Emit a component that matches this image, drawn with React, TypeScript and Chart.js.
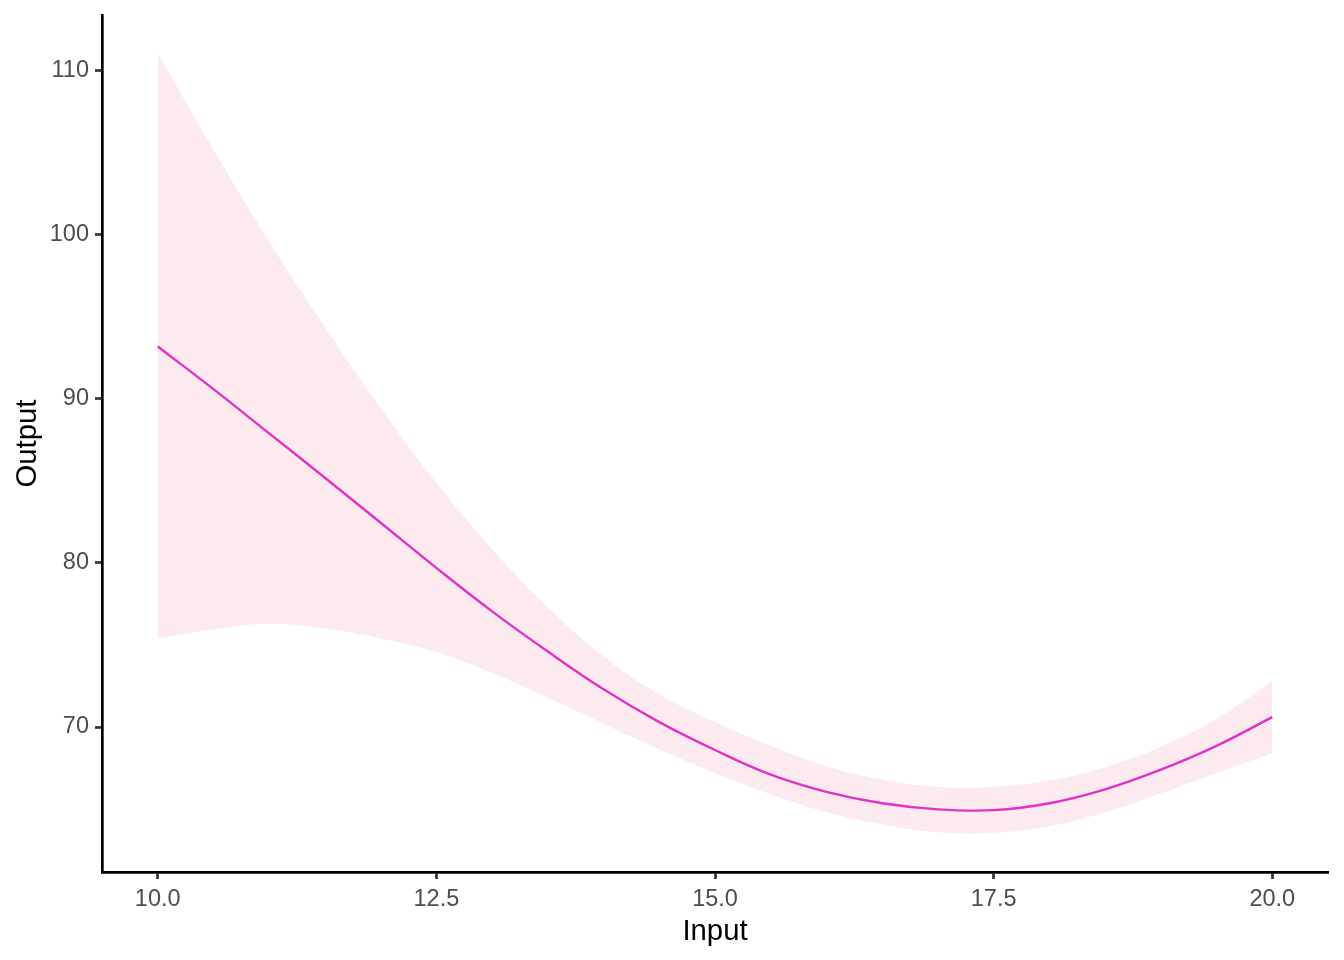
import React, { useEffect, useRef } from "react";
import { Chart, registerables } from "chart.js";

Chart.register(...registerables);

const xValues = [10, 10.5, 11, 11.5, 12, 12.5, 13, 13.5, 14, 14.5, 15, 15.5, 16, 16.5, 17, 17.5, 18, 18.5, 19, 19.5, 20];
const fitValues = [93.2, 90.6, 87.9, 85.2, 82.45, 79.7, 77.05, 74.6, 72.3, 70.3, 68.6, 67.1, 66.05, 65.35, 64.98, 64.93, 65.35, 66.2, 67.4, 68.85, 70.6];
const upperValues = [111.1, 105.2, 99.6, 94.4, 89.45, 84.9, 80.85, 77.3, 74.3, 72.0, 70.3, 68.85, 67.6, 66.8, 66.35, 66.35, 66.75, 67.55, 68.8, 70.5, 72.8];
const lowerValues = [75.4, 75.95, 76.3, 76.0, 75.4, 74.58, 73.3, 71.8, 70.2, 68.65, 67.2, 65.9, 64.8, 64.05, 63.58, 63.55, 63.95, 64.8, 65.95, 67.2, 68.4];
const xTicks = [10, 12.5, 15, 17.5, 20];
const yTicks = [70, 80, 90, 100, 110];

const FONT = "'Liberation Sans', Arial, sans-serif";

export default function App() {
  const ref = useRef<HTMLCanvasElement | null>(null);

  useEffect(() => {
    document.body.style.margin = "0";
    const canvas = ref.current;
    if (!canvas) return;
    const pts = (ys: number[]) => xValues.map((x, i) => ({ x, y: ys[i] }));
    const chart = new Chart(canvas, {
      type: "line",
      data: {
        datasets: [
          {
            label: "fit",
            data: pts(fitValues),
            borderColor: "rgb(224,50,200)",
            borderWidth: 2.4,
            pointRadius: 0,
            fill: false,
            tension: 0.4,
          },
          {
            label: "upper",
            data: pts(upperValues),
            borderWidth: 0,
            borderColor: "rgba(0,0,0,0)",
            backgroundColor: "rgb(253,234,239)",
            pointRadius: 0,
            fill: "+1",
            tension: 0.4,
          },
          {
            label: "lower",
            data: pts(lowerValues),
            borderWidth: 0,
            borderColor: "rgba(0,0,0,0)",
            backgroundColor: "rgb(253,234,239)",
            pointRadius: 0,
            fill: false,
            tension: 0.4,
          },
        ],
      },
      options: {
        animation: false,
        responsive: false,
        maintainAspectRatio: false,
        layout: { padding: { top: 15, right: 16, left: 0, bottom: 0 } },
        plugins: {
          legend: { display: false },
          tooltip: { enabled: false },
          filler: { drawTime: "beforeDatasetsDraw" },
        },
        scales: {
          x: {
            type: "linear",
            min: 9.5,
            max: 20.5,
            afterBuildTicks: (s: any) => {
              s.ticks = xTicks.map((v) => ({ value: v }));
            },
            afterFit: (s: any) => {
              s.height = 88;
              s.paddingLeft = 0;
              s.paddingRight = 0;
            },
            ticks: {
              callback: (v: any) => Number(v).toFixed(1),
              color: "#4D4D4D",
              font: { family: FONT, size: 23.5 },
              padding: 6,
              maxRotation: 0,
              autoSkip: false,
            },
            grid: {
              drawOnChartArea: false,
              drawTicks: true,
              tickLength: 7,
              tickColor: "#333333",
              tickWidth: 2.7,
            },
            border: { display: true, color: "#000000", width: 2.7 },
            title: {
              display: true,
              text: "Input",
              color: "#000000",
              font: { family: FONT, size: 29.3 },
              padding: { top: 0, bottom: 11 },
            },
          },
          y: {
            type: "linear",
            min: 61.16,
            max: 113.41,
            afterBuildTicks: (s: any) => {
              s.ticks = yTicks.map((v) => ({ value: v }));
            },
            afterFit: (s: any) => {
              s.width = 102;
              s.paddingTop = 0;
              s.paddingBottom = 0;
            },
            ticks: {
              color: "#4D4D4D",
              font: { family: FONT, size: 23.5 },
              padding: 6,
              autoSkip: false,
            },
            grid: {
              drawOnChartArea: false,
              drawTicks: true,
              tickLength: 7,
              tickColor: "#333333",
              tickWidth: 2.7,
            },
            border: { display: true, color: "#000000", width: 2.7 },
            title: {
              display: true,
              text: "Output",
              color: "#000000",
              font: { family: FONT, size: 29.3 },
              padding: { top: 10, bottom: 0 },
            },
          },
        },
      },
    });
    return () => chart.destroy();
  }, []);

  return (
    <div style={{ position: "absolute", left: 0, top: 0, width: 1344, height: 960, background: "#ffffff" }}>
      <canvas ref={ref} width={1344} height={960} style={{ display: "block" }} />
    </div>
  );
}
